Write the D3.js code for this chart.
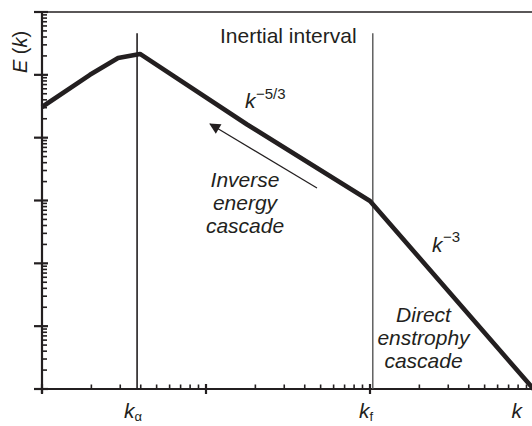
<!DOCTYPE html>
<html><head><meta charset="utf-8">
<script src="https://cdn.jsdelivr.net/npm/d3@7"></script>
<style>html,body{margin:0;padding:0;background:#fff;overflow:hidden}</style>
</head><body><svg id="c" width="532" height="426"></svg>
<script>
// Spectrum E(k) on log-log axes
const specK = [1, 1.96, 2.91, 3.96, 17.8, 100, 1000];
const specE = [3.08e4, 1.0e5, 1.85e5, 2.15e5, 1.62e4, 982, 0.98];
// marker wavenumbers (vertical lines) and their top
const markerK = [3.8, 104];
const markerTopE = 4.6e5;
// arrow (inverse cascade) from -> to
const arrowK = [47.5, 10.6];
const arrowE = [1580, 1.65e4];
// x tick labels
const xLabelK = [3.8, 100, 786];
const xLabelSub = ["α", "f", ""];
// axis domains / decades
const xDecades = [1, 10, 100, 1000];
const yDecades = [1, 10, 100, 1e3, 1e4, 1e5, 1e6];

const svg = d3.select("#c");
const ink = "#231f20";
const font = "'Liberation Sans', Arial, Helvetica, sans-serif";
const x = d3.scaleLog().domain([1, 1000]).range([42, 534]);
const y = d3.scaleLog().domain([1, 1e6]).range([389, 12]);

// top frame line
svg.append("line").attr("x1", 42).attr("x2", 532).attr("y1", y(1e6)).attr("y2", y(1e6))
  .attr("stroke", ink).attr("stroke-width", 1.4);

// axes
svg.append("line").attr("x1", 42).attr("x2", 42).attr("y1", y(1e6) - 1).attr("y2", 393)
  .attr("stroke", ink).attr("stroke-width", 2.2);
svg.append("line").attr("x1", 42).attr("x2", 532).attr("y1", 389).attr("y2", 389)
  .attr("stroke", ink).attr("stroke-width", 2.2);

// y ticks
const yMinor = [];
yDecades.slice(0, -1).forEach(d => { for (let m = 2; m <= 9; m++) yMinor.push(d * m); });
svg.append("g").selectAll("line").data(yMinor).join("line")
  .attr("x1", 42).attr("x2", 47).attr("y1", d => y(d)).attr("y2", d => y(d))
  .attr("stroke", ink).attr("stroke-width", 1.6);
svg.append("g").selectAll("line").data(yDecades).join("line")
  .attr("x1", 34).attr("x2", 48).attr("y1", d => y(d)).attr("y2", d => y(d))
  .attr("stroke", ink).attr("stroke-width", 2.2);

// x ticks
const xMinor = [];
xDecades.slice(0, -1).forEach(d => { for (let m = 2; m <= 9; m++) xMinor.push(d * m); });
svg.append("g").selectAll("line").data(xMinor).join("line")
  .attr("x1", d => x(d)).attr("x2", d => x(d)).attr("y1", 384.5).attr("y2", 389)
  .attr("stroke", ink).attr("stroke-width", 1.6);
svg.append("g").selectAll("line").data(xDecades.slice(0, -1)).join("line")
  .attr("x1", d => x(d)).attr("x2", d => x(d)).attr("y1", 384).attr("y2", 394)
  .attr("stroke", ink).attr("stroke-width", 2.2);

// marker vertical lines
svg.append("line").attr("x1", x(markerK[0])).attr("x2", x(markerK[0]))
  .attr("y1", y(markerTopE)).attr("y2", 389).attr("stroke", ink).attr("stroke-width", 1.6);
svg.append("line").attr("x1", x(markerK[1])).attr("x2", x(markerK[1]))
  .attr("y1", y(markerTopE)).attr("y2", 389).attr("stroke", "#555").attr("stroke-width", 1.4);

// spectrum curve
const pts = specK.map((k, i) => [x(k), y(specE[i])]);
svg.append("path").attr("d", d3.line()(pts)).attr("fill", "none")
  .attr("stroke", ink).attr("stroke-width", 4.6).attr("stroke-linejoin", "round");

// arrow
const defs = svg.append("defs");
defs.append("marker").attr("id", "ah").attr("viewBox", "0 0 10 10").attr("refX", 9).attr("refY", 5)
  .attr("markerWidth", 13).attr("markerHeight", 11).attr("markerUnits", "userSpaceOnUse")
  .attr("orient", "auto")
  .append("path").attr("d", "M0,0 L10,5 L0,10 Z").attr("fill", ink);
svg.append("line").attr("x1", x(arrowK[0])).attr("y1", y(arrowE[0]))
  .attr("x2", x(arrowK[1])).attr("y2", y(arrowE[1]))
  .attr("stroke", ink).attr("stroke-width", 1.2).attr("marker-end", "url(#ah)");

// texts
function txt(t, px, py, opts = {}) {
  return svg.append("text").attr("x", px).attr("y", py).text(t)
    .attr("font-family", font).attr("font-size", opts.size || 21)
    .attr("font-style", opts.italic ? "italic" : "normal")
    .attr("text-anchor", opts.anchor || "start").attr("fill", ink);
}
txt("Inertial interval", 220, 43);
// k^-5/3
txt("k", 245, 108, {italic: true});
txt("\u22125/3", 256, 99, {size: 15});
// k^-3
txt("k", 432, 252, {italic: true});
txt("\u22123", 443, 242, {size: 15});

["Inverse", "energy", "cascade"].forEach((s, i) => txt(s, 245, 187 + 23 * i, {italic: true, anchor: "middle"}));
["Direct", "enstrophy", "cascade"].forEach((s, i) => txt(s, 423.5, 322 + 23 * i, {italic: true, anchor: "middle"}));

// y label
const yl = svg.append("text").attr("transform", "translate(27,52) rotate(-90)")
  .attr("font-family", font).attr("font-size", 20).attr("text-anchor", "middle").attr("fill", ink);
yl.append("tspan").attr("font-style", "italic").text("E");
yl.append("tspan").text(" (");
yl.append("tspan").attr("font-style", "italic").text("k");
yl.append("tspan").text(")");

// x tick labels
xLabelK.forEach((k, i) => {
  const t = svg.append("text").attr("x", x(k) - (xLabelSub[i] ? 4 : 0)).attr("y", 418)
    .attr("font-family", font).attr("font-size", 21).attr("text-anchor", "middle").attr("fill", ink);
  t.append("tspan").attr("font-style", "italic").text("k");
  if (xLabelSub[i]) t.append("tspan").attr("font-size", 13).attr("dy", 3).text(xLabelSub[i]);
});
</script></body></html>
